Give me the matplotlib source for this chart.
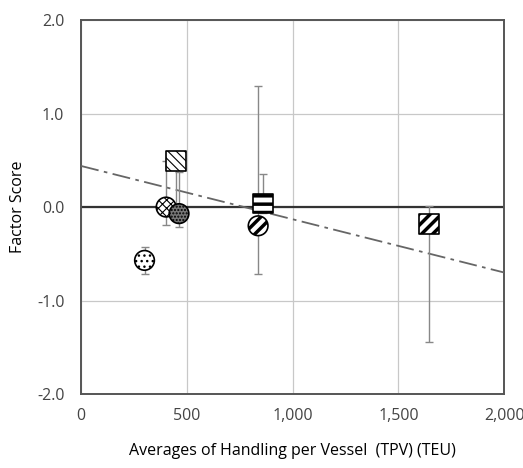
import matplotlib.pyplot as plt
from matplotlib.ticker import FuncFormatter

# values
tpv = [300, 402, 449, 463, 837, 861, 1645]
score = [-0.57, 0.00, 0.49, -0.07, -0.20, 0.04, -0.18]
err_up = [0.14, 0.49, 0.05, 0.45, 1.49, 0.31, 0.19]
err_low = [0.15, 0.19, 0.55, 0.14, 0.52, 0.10, 1.26]
markers = ['o', 'o', 's', 'o', 'o', 's', 's']
faces = ['white', 'white', 'white', '#777777', 'white', 'white', 'white']
hatches = ['...', 'xxxx', '\\\\\\\\', '.....', '///', '--', '///']
hatch_lw = [1.0, 0.8, 0.8, 1.0, 2.5, 2.5, 2.5]

trend_x = [0, 2000]
trend_y = [0.44, -0.70]

xticks = [0, 500, 1000, 1500, 2000]
yticks = [-2.0, -1.0, 0.0, 1.0, 2.0]

plt.rcParams['font.family'] = ['Open Sans', 'DejaVu Sans']

fig = plt.figure(figsize=(5.23, 4.68), dpi=100)
ax = fig.add_axes([0.155, 0.158, 0.809, 0.799])

ax.grid(True, color='#c8c8c8', linewidth=0.9)
ax.set_axisbelow(True)
ax.axhline(0, color='#333333', linewidth=1.6, zorder=2)

# trend line
ax.plot(trend_x, trend_y, color='#666666', linestyle=(0, (10, 3, 2, 3)), linewidth=1.3, zorder=3)

# error bars
ax.errorbar(tpv, score, yerr=[err_low, err_up], fmt='none', ecolor='#888888',
            elinewidth=1.0, capsize=3, capthick=1.0, zorder=4)

# markers with patterns
for i in range(len(tpv)):
    plt.rcParams['hatch.linewidth'] = hatch_lw[i]
    ax.scatter(tpv[i], score[i], marker=markers[i], s=200, facecolor=faces[i],
               edgecolor='black', linewidth=1.2, hatch=hatches[i], zorder=5)

ax.set_xlim(0, 2000)
ax.set_ylim(-2.0, 2.0)
ax.set_xticks(xticks)
ax.set_yticks(yticks)
ax.xaxis.set_major_formatter(FuncFormatter(lambda v, p: f'{int(v):,}'))
ax.yaxis.set_major_formatter(FuncFormatter(lambda v, p: f'{v:.1f}'))
ax.tick_params(length=0, labelsize=11.5, colors='#444444', pad=10)
ax.tick_params(axis='y', pad=12)

for s in ax.spines.values():
    s.set_color('#555555')
    s.set_linewidth(1.4)

ax.set_xlabel('Averages of Handling per Vessel  (TPV) (TEU)', fontsize=11.5, labelpad=14)
ax.set_ylabel('Factor Score', fontsize=11.5, labelpad=8)

plt.savefig('out.png', dpi=100)
